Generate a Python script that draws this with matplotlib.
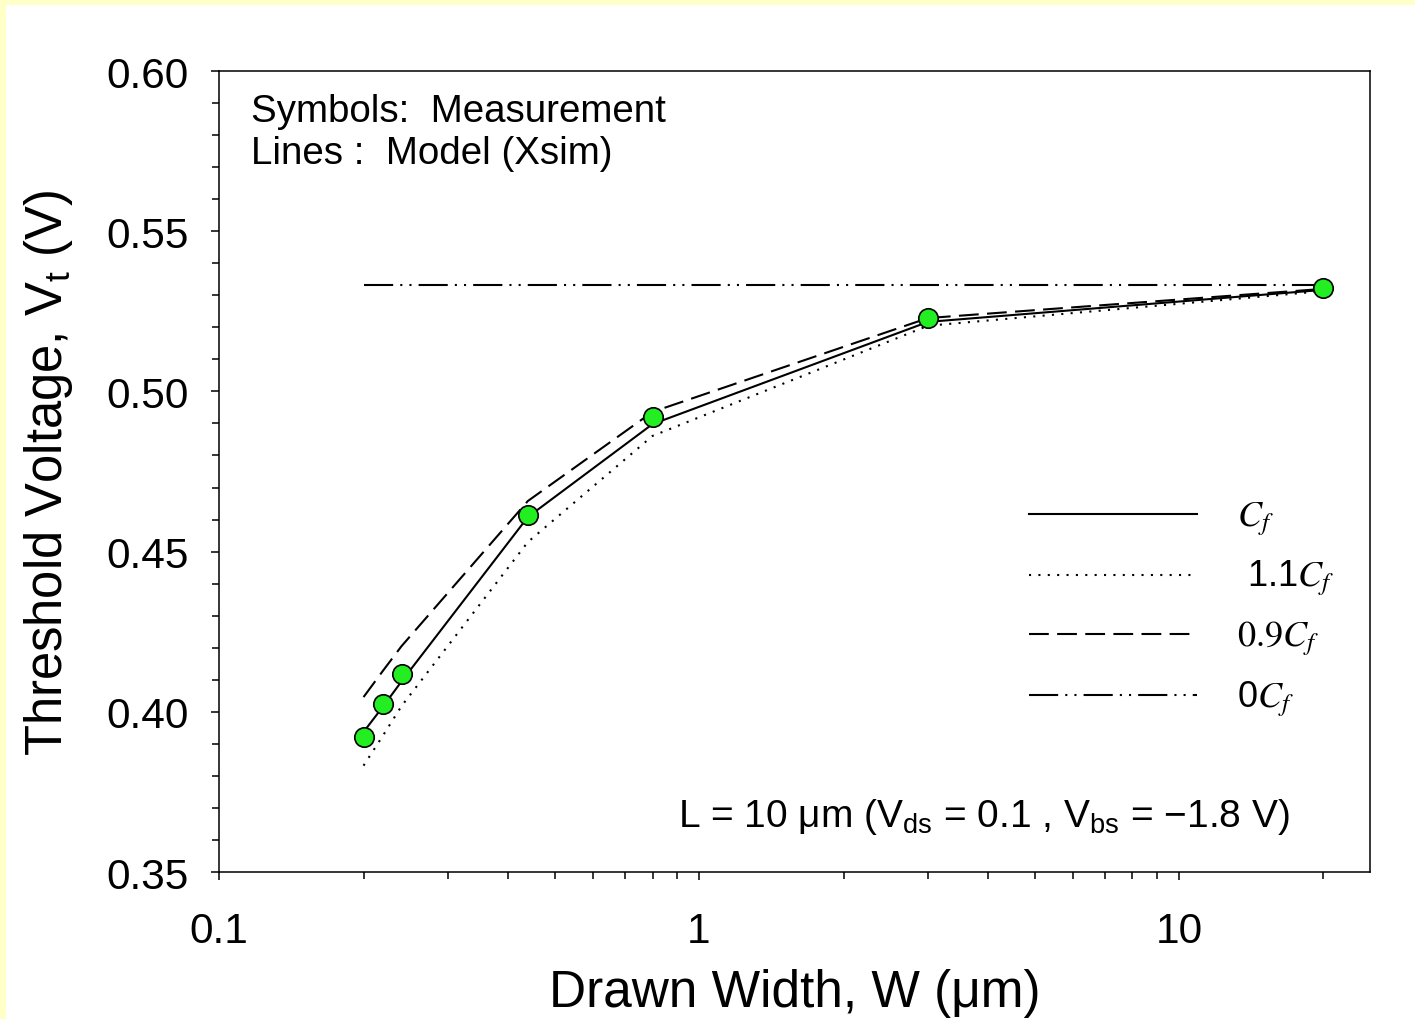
import numpy as np
import matplotlib
matplotlib.use("Agg")
import matplotlib.pyplot as plt
from matplotlib.patches import Rectangle
from matplotlib.ticker import MultipleLocator, FixedLocator, FixedFormatter, FormatStrFormatter

plt.rcParams["font.family"] = ["Liberation Sans", "DejaVu Sans"]
plt.rcParams["mathtext.fontset"] = "custom"
plt.rcParams["mathtext.rm"] = "Liberation Sans"
plt.rcParams["mathtext.it"] = "Liberation Sans:italic"

# datos
width_um = [0.2, 0.22, 0.24, 0.44, 0.8, 3.0, 20.0]
vt_meas = [0.392, 0.4025, 0.4118, 0.4614, 0.492, 0.523, 0.5323]
vt_cf = [0.3937, 0.4018, 0.4095, 0.4608, 0.4898, 0.5217, 0.5317]
vt_11cf = [0.3832, 0.3928, 0.4018, 0.4530, 0.4861, 0.5205, 0.5313]
vt_09cf = [0.4046, 0.4130, 0.4205, 0.4658, 0.4936, 0.5229, 0.5320]
vt_0cf = [0.5332] * 7

fig = plt.figure(figsize=(14.15, 10.2), dpi=100)
fig.set_facecolor("#FFFFC8")
fig.patches.append(Rectangle((6 / 1415, 0), 1, 1 - 6 / 1020, transform=fig.transFigure,
                             facecolor="white", edgecolor="none", zorder=-10))

ax = fig.add_axes([0.1548, 0.1441, 0.8134, 0.7853])

ax.plot(width_um, vt_cf, color="black", lw=1.5, label=r"$C_f$")
ax.plot(width_um, vt_11cf, color="black", lw=1.5, ls=(0, (1, 3.5)), label=r" 1.1$C_f$")
ax.plot(width_um, vt_09cf, color="black", lw=1.5, ls=(0, (9.5, 4)), label=r"$0.9C_f$")
ax.plot(width_um, vt_0cf, color="black", lw=1.5,
        ls=(0, (14, 3.4, 1, 3.4, 1, 3.4)), label=r"0$C_f$")
ax.plot(width_um, vt_meas, ls="none", marker="o", ms=14, mfc="#22EE22",
        mec="black", mew=1.2, zorder=5)

ax.set_xscale("log")
ax.set_xlim(0.1, 25)
ax.set_ylim(0.35, 0.60)
ax.xaxis.set_major_locator(FixedLocator([0.1, 1, 10]))
ax.xaxis.set_major_formatter(FixedFormatter(["0.1", "1", "10"]))
ax.yaxis.set_major_locator(MultipleLocator(0.05))
ax.yaxis.set_minor_locator(MultipleLocator(0.01))
ax.yaxis.set_major_formatter(FormatStrFormatter("%.2f"))

ax.tick_params(which="both", direction="out", top=False, right=False, width=1.1)
ax.tick_params(which="major", length=6, labelsize=30.5)
ax.tick_params(which="minor", length=5)
ax.tick_params(axis="y", which="major", pad=16)
ax.tick_params(axis="x", which="major", pad=22)
for s in ax.spines.values():
    s.set_linewidth(1.1)

ax.set_xlabel(r"Drawn Width, W (μm)", fontsize=37, labelpad=12)
ax.set_ylabel(r"Threshold Voltage, V$_{\rm t}$ (V)", fontsize=36.5, labelpad=22)

ax.text(0.028, 0.972, "Symbols:  Measurement\nLines :  Model (Xsim)", transform=ax.transAxes,
        fontsize=27.7, va="top", ha="left", linespacing=1.2)
ax.text(0.930, 0.0574, r"L = 10 μm (V$_{\rm ds}$ = 0.1 , V$_{\rm bs}$ = $-$1.8 V)",
        transform=ax.transAxes, fontsize=28, ha="right", va="baseline")

leg = ax.legend(loc="center left", bbox_to_anchor=(0.68, 0.33), frameon=False,
                fontsize=22, handlelength=5.5, handletextpad=1.3, labelspacing=0.68)
for t in leg.get_texts():
    t.set_math_fontfamily("stix")
    t.set_fontsize(26)

fig.savefig("out.png", dpi=100, facecolor=fig.get_facecolor())
